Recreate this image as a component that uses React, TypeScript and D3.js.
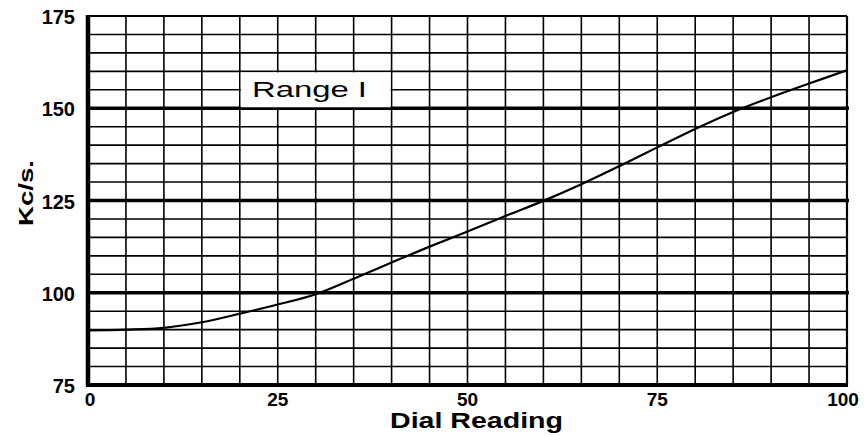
import React, { useEffect, useRef } from 'react';
import * as d3 from 'd3';

// Dial calibration curve, every 5 divisions
const dialReadings = [0, 5, 10, 15, 20, 25, 30, 35, 40, 45, 50, 55, 60, 65, 70, 75, 80, 85, 90, 95, 100];
const frequencyKc = [89.8, 90.0, 90.5, 92.0, 94.3, 96.8, 99.6, 103.8, 108.2, 112.5, 116.6, 120.8, 124.9, 129.4, 134.3, 139.4, 144.4, 149.0, 153.0, 156.7, 160.3];

const xTicks = [0, 25, 50, 75, 100];
const yTicks = [75, 100, 125, 150, 175];
const heavyLines = [100, 125, 150];

const rangeLabel = 'Range I';
const xTitle = 'Dial Reading';
const yTitle = 'Kc/s.';

const W = 868;
const H = 436;

const App = () => {
    const svgRef = useRef<SVGSVGElement>(null);

    useEffect(() => {
        document.body.style.margin = '0';
        const svg = d3.select(svgRef.current);
        svg.selectAll('*').remove();

        const font = '"Liberation Sans", Arial, sans-serif';

        const x = d3.scaleLinear().domain([0, 100]).range([88, 847]);
        const y = d3.scaleLinear().domain([75, 175]).range([385, 16]);

        svg.append('rect').attr('width', W).attr('height', H).attr('fill', '#fff');

        const grid = svg.append('g').attr('stroke', '#000');

        // thin grid every 5 units
        grid.selectAll('.v')
            .data(d3.range(5, 100, 5))
            .enter()
            .append('line')
            .attr('x1', d => x(d)).attr('x2', d => x(d))
            .attr('y1', y(175)).attr('y2', y(75))
            .attr('stroke-width', 1.6);

        grid.selectAll('.h')
            .data(d3.range(80, 175, 5).filter(d => !heavyLines.includes(d)))
            .enter()
            .append('line')
            .attr('x1', x(0)).attr('x2', x(100))
            .attr('y1', d => y(d)).attr('y2', d => y(d))
            .attr('stroke-width', 1.6);

        // blank box for the range label
        svg.append('rect')
            .attr('x', x(20) + 1)
            .attr('y', y(160) + 1)
            .attr('width', x(40) - x(20) - 2)
            .attr('height', y(150) - y(160) - 2)
            .attr('fill', '#fff');

        // heavy lines
        grid.selectAll('.hh')
            .data(heavyLines)
            .enter()
            .append('line')
            .attr('x1', x(0)).attr('x2', x(100) + 2)
            .attr('y1', d => y(d)).attr('y2', d => y(d))
            .attr('stroke-width', 3.6);

        // frame
        grid.append('line').attr('x1', x(0)).attr('x2', x(100)).attr('y1', y(175)).attr('y2', y(175)).attr('stroke-width', 1.8);
        grid.append('line').attr('x1', x(100)).attr('x2', x(100)).attr('y1', y(175)).attr('y2', y(75)).attr('stroke-width', 2.2);
        grid.append('line').attr('x1', x(0) - 2).attr('x2', x(100) + 1).attr('y1', y(75)).attr('y2', y(75)).attr('stroke-width', 4);
        grid.append('line').attr('x1', x(0)).attr('x2', x(0)).attr('y1', y(175) - 1).attr('y2', y(75) + 1).attr('stroke-width', 4.5);

        // curve
        const pts = dialReadings.map((d, i) => [d, frequencyKc[i]] as [number, number]);
        const line = d3.line<[number, number]>()
            .x(d => x(d[0]))
            .y(d => y(d[1]))
            .curve(d3.curveCatmullRom.alpha(0.5));

        svg.append('path')
            .datum(pts)
            .attr('fill', 'none')
            .attr('stroke', '#000')
            .attr('stroke-width', 2.2)
            .attr('d', line);

        // tick labels
        svg.selectAll('.yt')
            .data(yTicks)
            .enter()
            .append('text')
            .attr('x', 75)
            .attr('y', d => y(d) + 8)
            .attr('text-anchor', 'end')
            .attr('font-family', font)
            .attr('font-weight', 'bold')
            .attr('font-size', 20)
            .text(d => d);

        svg.selectAll('.xt')
            .data(xTicks)
            .enter()
            .append('text')
            .attr('x', d => x(d) + (d === 0 ? 2 : d === 100 ? -4 : 0))
            .attr('y', 406)
            .attr('text-anchor', 'middle')
            .attr('font-family', font)
            .attr('font-weight', 'bold')
            .attr('font-size', 19)
            .text(d => d);

        // titles
        svg.append('text')
            .attr('x', 390)
            .attr('y', 428)
            .attr('textLength', 173)
            .attr('lengthAdjust', 'spacingAndGlyphs')
            .attr('font-family', font)
            .attr('font-weight', 'bold')
            .attr('font-size', 22)
            .text(xTitle);

        svg.append('text')
            .attr('transform', `translate(33,193) rotate(-90)`)
            .attr('text-anchor', 'middle')
            .attr('textLength', 66)
            .attr('lengthAdjust', 'spacingAndGlyphs')
            .attr('font-family', font)
            .attr('font-weight', 'bold')
            .attr('font-size', 21)
            .text(yTitle);

        svg.append('text')
            .attr('x', 252)
            .attr('y', 97)
            .attr('textLength', 115)
            .attr('lengthAdjust', 'spacingAndGlyphs')
            .attr('font-family', font)
            .attr('font-size', 22)
            .text(rangeLabel);
    }, []);

    return <svg ref={svgRef} width={W} height={H} style={{ display: 'block' }}></svg>;
};

export default App;
